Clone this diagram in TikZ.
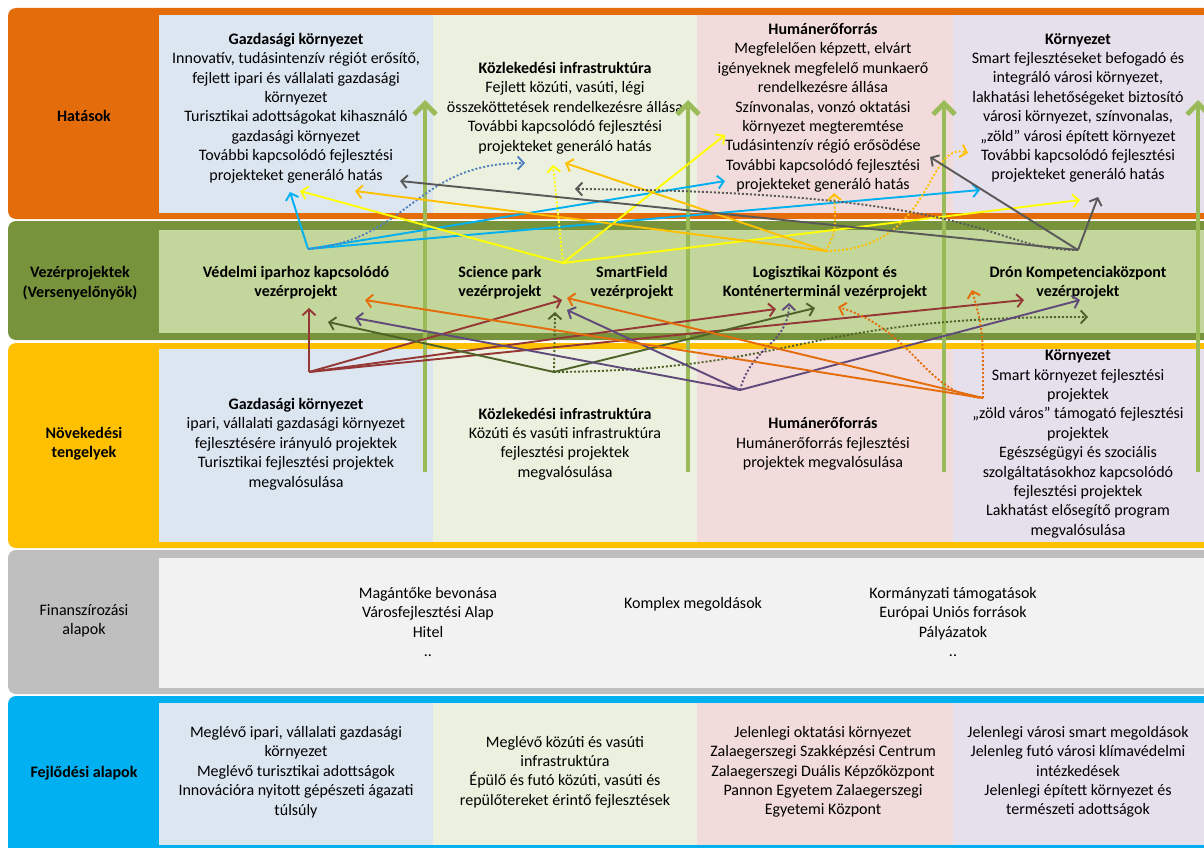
\documentclass[tikz,border=0pt]{standalone}
\usepackage{fontspec}
\setmainfont{Carlito}
\usetikzlibrary{arrows.meta}
\definecolor{hatorange}{HTML}{E46C0A}
\definecolor{vezdark}{HTML}{77933C}
\definecolor{vezlight}{HTML}{C3D69B}
\definecolor{novyellow}{HTML}{FFC000}
\definecolor{fingray}{HTML}{BFBFBF}
\definecolor{finlight}{HTML}{F2F2F2}
\definecolor{fejblue}{HTML}{00B0F0}
\definecolor{colA}{HTML}{DCE6F1}
\definecolor{colB}{HTML}{EBF1DE}
\definecolor{colC}{HTML}{F2DCDB}
\definecolor{colD}{HTML}{E5E0EC}
\definecolor{axisgreen}{HTML}{9BBB59}
\definecolor{lnblue}{HTML}{00B0F0}
\definecolor{lndotblue}{HTML}{4F81BD}
\definecolor{lnyellow}{HTML}{FFFF00}
\definecolor{lngold}{HTML}{FFC000}
\definecolor{lngray}{HTML}{595959}
\definecolor{lnred}{HTML}{953735}
\definecolor{lngreen}{HTML}{4F6228}
\definecolor{lnpurple}{HTML}{604A7B}
\definecolor{lnorange}{HTML}{E46C0A}
\begin{document}
\begin{tikzpicture}[x=1pt,y=-1pt,
  txt/.style={align=center,inner sep=0pt,font=\fontsize{16}{19.4}\selectfont},
  lbl/.style={align=center,inner sep=0pt,font=\fontsize{16}{19.4}\selectfont\bfseries},
  conn/.style={line width=1.9pt,-{Straight Barb[length=6pt,width=13pt]}},
  dconn/.style={conn,dash pattern=on 2pt off 2pt},
  growarrow/.style={axisgreen,line width=4.8pt,-{Straight Barb[length=11pt,width=22pt]}}]
  \useasboundingbox (0,0) rectangle (1204,848);
  \clip (0,0) rectangle (1204,848);
  \fill[white] (0,0) rectangle (1204,848);
  % bands
  \fill[hatorange,rounded corners=8pt] (8,8) rectangle (1220,219);
  \fill[vezdark,rounded corners=8pt] (8,221) rectangle (1220,340);
  \fill[novyellow,rounded corners=8pt] (8,343) rectangle (1220,548);
  \fill[fingray,rounded corners=8pt] (8,550) rectangle (1220,694);
  \fill[fejblue,rounded corners=8pt] (8,696) rectangle (1220,860);
  \foreach \ya/\yb in {15/213,349/542,703/845}
    \foreach \xa/\xb/\c in {159/433/colA,433/697/colB,697/953/colC,953/1204/colD}
      \fill[\c] (\xa,\ya) rectangle (\xb,\yb);
  \fill[vezlight] (159,230) rectangle (1204,333);
  \fill[finlight] (159,558) rectangle (1204,688);
  % row labels
  \node[lbl] (lhat) at (84,116) {Hatások};
  \node[lbl] (lvez) at (80,283) {Vezérprojektek\\(Versenyelőnyök)};
  \node[lbl] (lnov) at (84,444) {Növekedési\\tengelyek};
  \node[txt] (lfin) at (84,621) {Finanszírozási\\alapok};
  \node[lbl] (lfej) at (84,773) {Fejlődési alapok};
  % Hatasok
  \node[txt] (hat1) at (296,108) {\textbf{Gazdasági környezet}\\Innovatív, tudásintenzív régiót erősítő,\\fejlett ipari és vállalati gazdasági\\környezet\\Turisztikai  adottságokat kihasználó\\gazdasági környezet\\További kapcsolódó fejlesztési\\projekteket generáló hatás};
  \node[txt] (hat2) at (565,108) {\textbf{Közlekedési infrastruktúra}\\Fejlett közúti, vasúti, légi\\összeköttetések rendelkezésre állása\\További kapcsolódó fejlesztési\\projekteket generáló hatás};
  \node[txt] (hat3) at (823,108) {\textbf{Humánerőforrás}\\Megfelelően képzett, elvárt\\igényeknek megfelelő munkaerő\\rendelkezésre állása\\Színvonalas, vonzó oktatási\\környezet megteremtése\\Tudásintenzív régió erősödése\\További kapcsolódó fejlesztési\\projekteket generáló hatás};
  \node[txt] (hat4) at (1078,108) {\textbf{Környezet}\\Smart fejlesztéseket befogadó és\\integráló városi környezet,\\lakhatási lehetőségeket biztosító\\városi környezet, színvonalas,\\„zöld” városi épített környezet\\További kapcsolódó fejlesztési\\projekteket generáló hatás};
  % Vezerprojektek
  \node[lbl] (vez1) at (296,283) {Védelmi iparhoz kapcsolódó\\vezérprojekt};
  \node[lbl] (vez2) at (500,283) {Science park\\vezérprojekt};
  \node[lbl] (vez3) at (632,283) {SmartField\\vezérprojekt};
  \node[lbl] (vez4) at (825,283) {Logisztikai Központ és\\Konténerterminál vezérprojekt};
  \node[lbl] (vez5) at (1078,283) {Drón Kompetenciaközpont\\vezérprojekt};
  % Novekedesi tengelyek
  \node[txt] (nov1) at (296,444) {\textbf{Gazdasági környezet}\\ipari, vállalati gazdasági környezet\\fejlesztésére irányuló projektek\\Turisztikai fejlesztési projektek\\megvalósulása};
  \node[txt] (nov2) at (565,444) {\textbf{Közlekedési infrastruktúra}\\Közúti és vasúti infrastruktúra\\fejlesztési projektek\\megvalósulása};
  \node[txt] (nov3) at (823,444) {\textbf{Humánerőforrás}\\Humánerőforrás fejlesztési\\projektek megvalósulása};
  \node[txt] (nov4) at (1078,444) {\textbf{Környezet}\\Smart környezet fejlesztési\\projektek\\„zöld város” támogató fejlesztési\\projektek\\Egészségügyi és szociális\\szolgáltatásokhoz kapcsolódó\\fejlesztési projektek\\Lakhatást elősegítő program\\megvalósulása};
  % Finanszirozasi alapok
  \node[txt] (fin1) at (428,622) {Magántőke bevonása\\Városfejlesztési Alap\\Hitel\\..};
  \node[txt] (fin2) at (693,604) {Komplex megoldások};
  \node[txt] (fin3) at (953,622) {Kormányzati támogatások\\Európai Uniós források\\Pályázatok\\..};
  % Fejlodesi alapok
  \node[txt] (fej1) at (296,772) {Meglévő ipari, vállalati gazdasági\\környezet\\Meglévő turisztikai adottságok\\Innovációra nyitott gépészeti ágazati\\túlsúly};
  \node[txt] (fej2) at (565,772) {Meglévő közúti és vasúti\\infrastruktúra\\Épülő és futó közúti, vasúti és\\repülőtereket érintő fejlesztések};
  \node[txt] (fej3) at (823,772) {Jelenlegi oktatási környezet\\Zalaegerszegi Szakképzési Centrum\\Zalaegerszegi Duális Képzőközpont\\Pannon Egyetem Zalaegerszegi\\Egyetemi Központ};
  \node[txt] (fej4) at (1078,772) {Jelenlegi városi smart megoldások\\Jelenleg futó városi klímavédelmi\\intézkedések\\Jelenlegi épített környezet és\\természeti adottságok};
  % growth axes
  \foreach \x [count=\i] in {425,688,944,1198} {
    \coordinate (ax\i b) at (\x,472);
    \coordinate (ax\i t) at (\x,100);
    \draw[growarrow] (ax\i b) -- (ax\i t);
  }
  % hubs
  \coordinate (hubblue) at (308,249);
  \coordinate (hubyel) at (563,263);
  \coordinate (hubgold) at (826,251);
  \coordinate (hubgray) at (1078,250);
  \coordinate (hubred) at (309,372);
  \coordinate (hubgreen) at (554,372);
  \coordinate (hubpurple) at (740,390);
  \coordinate (huborange) at (983,398);
  % upper connectors
  \foreach \x/\y [count=\i] in {290/192,725/181,980/190} {
    \coordinate (bl\i) at (\x,\y);
    \draw[conn,lnblue] (hubblue) -- (bl\i);
  }
  \coordinate (bldot) at (525,163);
  \draw[dconn,lndotblue] (hubblue) .. controls (410,240) and (415,163) .. (bldot);
  \foreach \x/\y [count=\i] in {300/191,725/135,1080/200} {
    \coordinate (ye\i) at (\x,\y);
    \draw[conn,lnyellow] (hubyel) -- (ye\i);
  }
  \coordinate (yedot) at (553,165);
  \draw[dconn,lnyellow] (hubyel) -- (yedot);
  \foreach \x/\y [count=\i] in {355/191,565/163} {
    \coordinate (go\i) at (\x,\y);
    \draw[conn,lngold] (hubgold) -- (go\i);
  }
  \coordinate (godot1) at (834,193);
  \coordinate (godot2) at (968,153);
  \draw[dconn,lngold] (hubgold) .. controls (836,230) .. (godot1);
  \draw[dconn,lngold] (hubgold) .. controls (935,250) and (925,140) .. (godot2);
  \foreach \x/\y [count=\i] in {400/181,930/157,1098/197} {
    \coordinate (gr\i) at (\x,\y);
    \draw[conn,lngray] (hubgray) -- (gr\i);
  }
  \coordinate (grdot) at (575,189);
  \draw[dconn,lngray] (hubgray) .. controls (985,250) and (1000,192) .. (grdot);
  % lower connectors
  \foreach \x/\y [count=\i] in {309/308,562/300,776/309,1024/300} {
    \coordinate (rd\i) at (\x,\y);
    \draw[conn,lnred] (hubred) -- (rd\i);
  }
  \foreach \x/\y [count=\i] in {328/322,815/308} {
    \coordinate (gn\i) at (\x,\y);
    \draw[conn,lngreen] (hubgreen) -- (gn\i);
  }
  \coordinate (gndot1) at (555,312);
  \coordinate (gndot2) at (1088,317);
  \draw[dconn,lngreen] (hubgreen) -- (gndot1);
  \draw[dconn,lngreen] (hubgreen) .. controls (800,370) and (800,316) .. (gndot2);
  \foreach \x/\y [count=\i] in {355/318,567/310,1080/300} {
    \coordinate (pu\i) at (\x,\y);
    \draw[conn,lnpurple] (hubpurple) -- (pu\i);
  }
  \coordinate (pudot) at (789,303);
  \draw[dconn,lnpurple] (hubpurple) .. controls (752,345) and (788,345) .. (pudot);
  \foreach \x/\y [count=\i] in {365/300,567/298} {
    \coordinate (or\i) at (\x,\y);
    \draw[conn,lnorange] (huborange) -- (or\i);
  }
  \coordinate (ordot1) at (972,290);
  \coordinate (ordot2) at (838,307);
  \draw[dconn,lnorange] (huborange) .. controls (983,330) .. (ordot1);
  \draw[dconn,lnorange] (huborange) .. controls (925,395) and (915,330) .. (ordot2);
\end{tikzpicture}
\end{document}
